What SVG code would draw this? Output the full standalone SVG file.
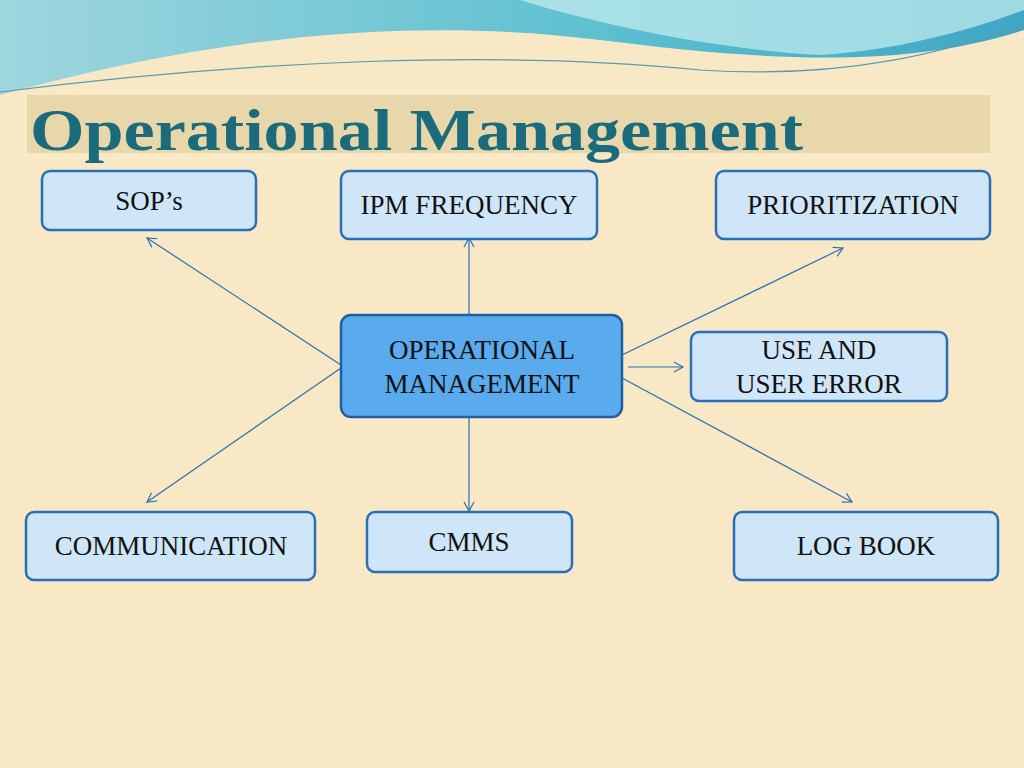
<svg xmlns="http://www.w3.org/2000/svg" width="1024" height="768" viewBox="0 0 1024 768">
<style>
.n{fill:#cfe6f9;stroke:#2a6fb5;stroke-width:2.5}
.t{font-family:"Liberation Serif",serif;font-size:27px;fill:#111;text-anchor:middle}
.c{stroke:#2a6fb5;stroke-width:1.2;fill:none;marker-end:url(#a)}
</style>
<defs>
<marker id="a" markerWidth="12" markerHeight="12" refX="10" refY="6" orient="auto" markerUnits="userSpaceOnUse"><path d="M1,1 L10,6 L1,11" fill="none" stroke="#2a6fb5" stroke-width="1.2"/></marker>
<linearGradient id="w" x1="0" y1="0" x2="1" y2="0"><stop offset="0" stop-color="#9fd6de"/><stop offset="0.6" stop-color="#5cbfd0"/><stop offset="1" stop-color="#3fa6c4"/></linearGradient>
</defs>
<rect width="1024" height="768" fill="#f8e8c6"/>
<path d="M0,0 H1024 V30 C900,70 760,60 600,40 C400,15 200,40 0,95 Z" fill="url(#w)"/>
<path d="M520,0 C600,25 720,50 820,55 C900,50 970,30 1024,10 V0 Z" fill="#c8eef0" opacity="0.7"/>
<path d="M0,92 C250,60 500,50 700,70 C850,80 950,50 1024,25" stroke="#5a9ab0" stroke-width="1.2" fill="none"/>
<rect x="27" y="95" width="963" height="58" fill="#e8d7ab"/>
<text x="30" y="150" font-family="Liberation Serif,serif" font-size="60" font-weight="bold" fill="#1b6b7c" textLength="773" lengthAdjust="spacingAndGlyphs">Operational Management</text>
<g id="connectors">
<line class="c" x1="341" y1="365" x2="147" y2="238"/>
<line class="c" x1="341" y1="368" x2="147" y2="502"/>
<line class="c" x1="469" y1="315" x2="469" y2="238"/>
<line class="c" x1="469" y1="417" x2="469" y2="511"/>
<line class="c" x1="622" y1="355" x2="843" y2="248"/>
<line class="c" x1="628" y1="367" x2="683" y2="367"/>
<line class="c" x1="622" y1="378" x2="852" y2="502"/>
</g>
<g id="center"><rect x="341" y="315" width="281" height="102" rx="10" fill="#5aaaee" stroke="#2060a0" stroke-width="2.5"/><text class="t" x="482" y="359">OPERATIONAL</text><text class="t" x="482" y="393">MANAGEMENT</text></g>
<g id="sops"><rect class="n" x="42" y="171" width="214" height="59" rx="8"/><text class="t" x="149" y="210">SOP’s</text></g>
<g id="ipm"><rect class="n" x="341" y="171" width="256" height="68" rx="8"/><text class="t" x="469" y="214">IPM FREQUENCY</text></g>
<g id="prio"><rect class="n" x="716" y="171" width="274" height="68" rx="8"/><text class="t" x="853" y="214">PRIORITIZATION</text></g>
<g id="use"><rect class="n" x="691" y="332" width="256" height="69" rx="8"/><text class="t" x="819" y="359">USE AND</text><text class="t" x="819" y="393">USER ERROR</text></g>
<g id="comm"><rect class="n" x="26" y="512" width="289" height="68" rx="8"/><text class="t" x="171" y="555">COMMUNICATION</text></g>
<g id="cmms"><rect class="n" x="367" y="512" width="205" height="60" rx="8"/><text class="t" x="469" y="551">CMMS</text></g>
<g id="log"><rect class="n" x="734" y="512" width="264" height="68" rx="8"/><text class="t" x="866" y="555">LOG BOOK</text></g>
</svg>
